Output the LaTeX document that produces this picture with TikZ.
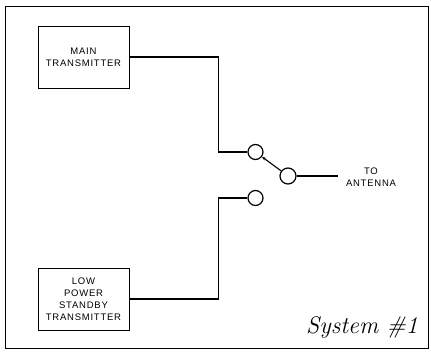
\documentclass[tikz,border=0pt]{standalone}
\usepackage{fontspec}
\newfontfamily\boxfont[LetterSpace=8]{Liberation Sans}
\usetikzlibrary{arrows.meta}

\begin{document}
\begin{tikzpicture} [x=1pt,y=-1pt,
  txbox/.style={draw,line width=.8pt,minimum width=91pt,minimum height=62pt,
    align=center,font=\boxfont\fontsize{9.5}{12}\selectfont},
  contact/.style={circle,draw,line width=1.2pt,minimum size=15pt,inner sep=0pt},
  wire/.style={line width=1.1pt}]
\useasboundingbox (0,0) rectangle (431,351);
\draw[line width=.8pt] (5,6) rectangle (428,348);
\node[txbox] (main) at (83.5,57) {MAIN\\TRANSMITTER};
\node[txbox] (low)  at (83.5,299) {LOW\\POWER\\STANDBY\\TRANSMITTER};
\node[contact] (c1) at (255.5,152) {};
\node[contact,minimum size=16pt] (c2) at (288,176) {};
\node[contact] (c3) at (255.5,198) {};
\coordinate (ant) at (338,176);
\node[align=center,font=\boxfont\fontsize{9.5}{12}\selectfont] (antlbl) at (371,177) {TO\\ANTENNA};
\draw[wire] (main.east) -- ++(89,0) |- (c1.west);
\draw[wire] (low.east) -- ++(89,0) |- (c3.west);
\draw[wire] (c2.east) -- (ant);
\draw[wire,-{Stealth[length=4pt,width=3pt]}] (c2) -- (c1);
\node[font=\itshape\addfontfeatures{LetterSpace=10}\fontsize{24}{28}\selectfont] (sys) at (362,327) {System \#1};
\end{tikzpicture}
\end{document}
